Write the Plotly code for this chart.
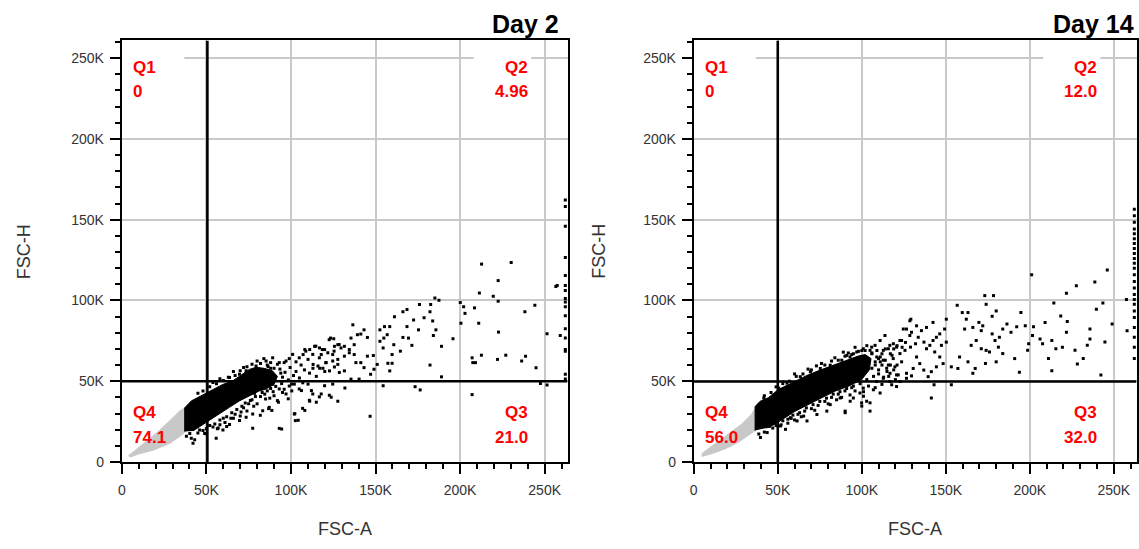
import plotly.graph_objects as go

W, H = 1139, 549

# ---------------- data (values in thousands) ----------------
tick_vals = [0, 50, 100, 150, 200, 250]
tick_text = ["0", "50K", "100K", "150K", "200K", "250K"]
minor_vals = [10, 20, 30, 40, 60, 70, 80, 90, 110, 120, 130, 140, 160, 170, 180, 190,
              210, 220, 230, 240, 260]

panel_titles = ["Day 2", "Day 14"]
quadrant_names = ["Q1", "Q2", "Q3", "Q4"]
day2_quadrants = ["0", "4.96", "21.0", "74.1"]
day14_quadrants = ["0", "12.0", "32.0", "56.0"]

day2_gate = (50.6, 50.0)     # (FSC-A gate, FSC-H gate)
day14_gate = (50.0, 49.8)

day2_gray = [(3.8, 3.7), (10.9, 9.8), (20.3, 17.7), (28.5, 25.6), (34.4, 31.7), (37.4, 33.5),
             (37.4, 18.5), (34.4, 15.9), (28.5, 11.6), (18.5, 7.3), (9.7, 4.9), (5.0, 3.0)]
day2_core = [(37.2, 18.8), (37.2, 33.5), (41.1, 37.8), (46.9, 41.0), (53.8, 45.0), (59.7, 48.0),
             (65.6, 50.2), (71.5, 54.2), (75.4, 57.3), (79.3, 58.6), (84.0, 58.0), (89.0, 56.5),
             (92.0, 53.0), (90.0, 48.0), (85.0, 45.0), (81.3, 44.0), (75.4, 41.0), (69.5, 37.8),
             (63.6, 33.8), (57.8, 29.8), (51.9, 25.6), (46.0, 21.5), (42.1, 19.2)]
day2_events = [
    (185.1, 101.5), (187.5, 100.1), (176.0, 97.5), (182.6, 97.5), (168.6, 94.4), (166.2, 93.0),
    (161.2, 89.9), (178.7, 89.3), (182.2, 93.0), (172.5, 87.9), (183.8, 87.3), (158.4, 83.8),
    (155.3, 83.8), (168.6, 83.8), (175.4, 81.8), (185.7, 81.8), (143.2, 81.8), (152.6, 81.8),
    (136.6, 84.9), (184.2, 78.3), (166.2, 77.1), (169.5, 76.7), (152.6, 74.7), (156.9, 78.8),
    (154.9, 76.7), (160.8, 72.6), (164.7, 68.6), (171.5, 72.2), (189.0, 71.6), (195.8, 76.3),
    (154.5, 70.6), (159.8, 66.5), (148.7, 65.9), (151.0, 60.4), (157.3, 61.1), (159.8, 61.1),
    (158.4, 56.4), (182.2, 60.0), (189.0, 52.7), (149.1, 57.4), (147.1, 54.3), (143.2, 58.4),
    (138.4, 61.5), (141.3, 61.5), (145.2, 65.5), (137.4, 66.5), (134.5, 69.6), (131.6, 71.6),
    (129.6, 70.6), (127.7, 72.6), (125.7, 71.6), (123.4, 76.7), (125.3, 76.3), (135.5, 76.7),
    (139.3, 78.8), (141.3, 79.2), (145.2, 77.1), (137.4, 72.6), (134.5, 67.6), (131.6, 65.5),
    (127.7, 63.5), (124.7, 62.5), (120.8, 61.5), (117.9, 66.5), (119.9, 69.6), (116.9, 70.6),
    (114.0, 71.6), (111.1, 69.6), (108.2, 69.6), (107.2, 66.5), (110.1, 63.5), (113.1, 60.4),
    (116.0, 59.4), (118.9, 58.0), (122.8, 56.4), (125.7, 58.8), (128.6, 55.4), (131.6, 56.4),
    (135.5, 51.3), (140.3, 51.3), (127.7, 60.4), (124.7, 66.5), (121.8, 67.6),
    (200.1, 98.7), (202.1, 96.1), (202.9, 92.0), (208.5, 95.4), (211.4, 104.6), (219.6, 102.6),
    (222.5, 99.5), (238.3, 93.0), (244.2, 97.1), (256.6, 108.7), (251.4, 79.4), (259.2, 78.3),
    (222.7, 80.4), (211.0, 85.9), (200.5, 85.9), (207.1, 64.5), (209.1, 61.5), (207.5, 61.5),
    (212.6, 66.1), (222.1, 63.5), (227.0, 66.1), (236.4, 62.5), (238.7, 65.5), (244.9, 58.4),
    (212.7, 122.5), (230.2, 123.5), (222.5, 112.3), (257.4, 109.3),
    (154.5, 47.2), (173.4, 46.6), (176.4, 44.6), (207.1, 41.7), (247.5, 48.6), (251.4, 47.6),
    (146.8, 28.3), (131.9, 45.8), (124.7, 48.2), (119.9, 47.2), (115.0, 37.0), (111.1, 37.6),
    (108.2, 31.9), (104.3, 25.8), (102.3, 29.9), (94.5, 20.4), (127.7, 37.6), (123.8, 40.1),
    (117.9, 42.1), (112.1, 44.2), (106.2, 44.2), (110.1, 48.2), (100.4, 48.2), (98.4, 39.1),
    (92.6, 37.0), (88.7, 31.9), (86.8, 33.0), (81.9, 28.9),
    (41.1, 14.7), (42.1, 11.6), (55.8, 14.7), (77.4, 20.8), (93.1, 20.8), (40.2, 17.7),
    (49.0, 17.7), (59.8, 19.8), (63.7, 23.2), (53.9, 21.6), (69.6, 25.6), (73.5, 27.7),
    (77.4, 29.7), (83.3, 31.7), (87.2, 33.8), (102.0, 29.7), (102.6, 25.6), (106.9, 33.2),
    (110.9, 38.2), (116.8, 40.3), (122.7, 41.3), (112.9, 42.1), (89.2, 48.2), (93.1, 45.2),
    (97.1, 42.1), (102.0, 48.2), (104.9, 45.2), (38.2, 15.9), (43.1, 13.7), (46.0, 19.8),
    (53.9, 49.2), (63.7, 52.3), (69.6, 54.3), (73.5, 56.4), (79.4, 59.4), (85.3, 62.5),
    (89.2, 64.5), (93.1, 61.5), (97.1, 62.5), (101.0, 66.6), (104.9, 64.5), (108.8, 68.6),
    (112.9, 66.6), (114.7, 71.7), (118.6, 69.6), (122.6, 75.7), (116.8, 64.5), (120.6, 61.5),
    (125.5, 68.6), (128.5, 72.7),
    (80.5, 52.0), (82.5, 54.5), (86.5, 59.0), (88.0, 58.0), (93.5, 57.5), (95.0, 52.5),
    (96.5, 55.5), (98.5, 50.8), (99.5, 58.5), (101.5, 53.5), (103.0, 56.0), (94.5, 48.5),
    (96.0, 45.0), (99.0, 47.0), (100.5, 44.0), (84.5, 42.0), (87.5, 39.5), (82.0, 40.5),
    (78.5, 42.5), (77.0, 38.5), (75.0, 36.0), (72.0, 33.5), (70.5, 31.0), (67.0, 29.5),
    (64.5, 27.0), (61.0, 24.5), (58.0, 23.0), (56.5, 20.5), (91.0, 46.8), (89.5, 43.5),
    (45.0, 18.0), (48.0, 19.5), (50.0, 20.5), (52.0, 22.5), (55.0, 23.5), (58.0, 26.0),
    (60.0, 27.0), (62.0, 28.0), (65.0, 30.5), (68.0, 32.5), (71.0, 34.5), (73.0, 36.5),
    (76.0, 38.0), (79.0, 40.5), (83.0, 43.0), (86.0, 44.0), (88.0, 45.5), (50.0, 17.5),
    (57.0, 21.0), (66.0, 27.0), (74.0, 31.5), (80.0, 36.0), (62.0, 22.0), (70.0, 28.5),
    (78.0, 34.5), (85.0, 39.0), (90.0, 41.0), (95.0, 43.0), (92.0, 38.0),
    (45.0, 42.5), (48.0, 44.0), (52.0, 46.5), (56.0, 48.5), (60.0, 50.5), (63.0, 52.5),
    (67.0, 53.5), (70.0, 56.5), (74.0, 59.0), (77.0, 60.5), (82.0, 61.0), (86.0, 60.0),
    (90.0, 58.0), (94.0, 55.0), (58.0, 51.5), (66.0, 56.0), (72.0, 58.5), (80.0, 62.5),
    (84.0, 64.0), (88.0, 61.5), (92.0, 60.5), (96.0, 61.5), (99.0, 64.0), (103.0, 62.0),
    (106.0, 60.0), (108.0, 57.0), (105.0, 52.0), (107.0, 49.0), (111.0, 55.0), (113.0, 58.0),
    (117.0, 58.0), (120.0, 56.0), (115.0, 53.0),
]
day2_edge_y = [162.2, 158.1, 145.9, 126.6, 115.4, 109.3, 106.2, 101.2, 99.1, 96.1, 90.6, 82.4,
               76.7, 69.6, 68.6, 54.3, 51.3]

day14_gray = [(4.7, 5.1), (12.7, 11.2), (20.6, 17.3), (28.5, 23.4), (34.4, 29.6), (36.5, 33.0),
              (36.5, 19.3), (32.5, 16.3), (26.5, 12.2), (18.6, 8.1), (10.6, 5.1), (4.7, 3.4)]
day14_core = [(36.5, 19.5), (36.5, 34.3), (39.4, 37.5), (44.4, 39.8), (50.3, 44.8), (56.3, 48.0),
              (62.2, 51.0), (68.2, 54.0), (76.1, 57.2), (84.0, 60.2), (92.0, 63.2), (97.9, 65.6),
              (102.0, 66.5), (105.5, 64.0), (104.5, 57.0), (99.9, 51.0), (92.0, 46.8), (84.0, 43.8),
              (76.1, 39.7), (68.2, 35.6), (60.3, 31.4), (54.3, 27.4), (48.4, 23.4), (43.4, 21.0)]
day14_events = [
    (246.1, 118.9), (201.1, 115.9), (227.7, 109.1), (238.7, 111.4), (221.8, 104.5), (257.5, 100.6),
    (243.5, 98.4), (239.6, 94.5), (214.3, 98.4), (218.4, 90.4), (222.3, 87.0), (209.1, 86.4),
    (194.7, 92.5), (249.0, 85.4), (257.9, 81.3), (235.8, 82.3), (235.8, 76.2), (244.7, 74.2),
    (234.2, 72.2), (221.8, 80.3), (219.4, 71.1), (215.5, 70.1), (213.1, 75.2), (207.6, 73.2),
    (206.1, 76.2), (201.6, 78.3), (199.3, 73.2), (198.7, 69.1), (211.1, 64.0), (226.9, 69.1),
    (231.8, 64.0), (228.3, 60.6), (213.1, 56.5), (242.3, 53.9), (191.0, 64.0), (193.8, 55.5),
    (197.3, 84.3), (202.2, 83.7), (188.8, 80.3), (192.2, 83.7), (186.4, 85.4), (183.9, 82.3),
    (183.9, 67.1), (181.3, 71.1), (179.3, 75.2), (181.9, 77.2), (177.6, 79.3), (177.6, 90.2),
    (180.0, 93.5), (174.0, 97.6), (173.2, 103.0), (178.4, 103.0), (163.2, 92.5), (159.8, 92.5),
    (156.8, 97.0), (162.2, 88.4), (161.2, 82.3), (166.1, 83.3), (169.7, 86.4), (172.0, 84.3),
    (171.1, 81.3), (168.1, 75.2), (165.1, 72.2), (171.1, 70.1), (174.0, 69.1), (176.0, 68.1),
    (180.0, 62.0), (173.6, 61.0), (167.5, 57.9), (166.1, 54.9), (163.2, 62.0), (158.2, 65.0),
    (157.2, 57.9), (153.3, 58.9), (150.3, 88.4), (149.3, 82.3), (146.4, 79.3), (144.4, 77.2),
    (150.3, 74.2), (147.4, 72.2), (142.4, 75.2), (140.5, 72.2), (138.5, 70.1), (143.4, 68.1),
    (146.4, 65.0), (148.4, 60.9), (144.4, 58.9), (141.4, 55.9), (139.5, 52.8), (142.4, 86.4),
    (138.5, 83.3), (135.5, 81.3), (132.6, 84.3), (129.2, 88.4), (126.6, 82.3), (129.6, 80.3),
    (133.6, 77.2), (137.0, 74.2), (132.0, 73.2), (129.0, 71.1), (125.7, 69.1), (122.7, 67.1),
    (120.7, 71.1), (123.7, 75.2), (118.8, 73.2), (115.8, 70.1), (113.8, 78.3), (132.6, 65.0),
    (134.5, 60.9), (130.6, 57.9), (126.6, 54.9), (136.9, 56.9),
    (141.4, 39.6), (153.3, 47.8), (143.0, 47.8), (120.7, 46.7), (117.8, 47.8), (110.9, 42.7),
    (106.9, 44.7), (104.9, 36.6), (101.0, 40.7), (100.0, 34.6), (90.1, 31.5), (93.1, 37.6),
    (104.9, 69.1), (107.9, 72.2), (110.9, 75.2), (108.9, 65.0), (112.8, 63.0), (115.8, 60.0),
    (119.7, 58.9), (123.7, 62.0), (116.8, 54.9), (121.7, 53.9), (112.8, 51.8), (126.6, 51.8),
    (129.6, 53.3),
    (38.7, 17.3), (39.7, 15.2), (43.7, 18.2), (54.6, 20.2), (51.6, 22.3), (61.5, 25.4),
    (65.4, 28.4), (67.4, 25.4), (73.3, 29.4), (79.2, 31.5), (81.2, 35.5), (87.1, 39.6),
    (90.1, 30.5), (95.0, 39.6), (98.9, 42.7), (99.9, 36.6), (104.9, 31.5), (102.9, 37.6),
    (57.5, 27.4), (43.7, 25.4), (47.6, 27.4),
    (41.7, 39.6), (50.6, 45.7), (55.5, 48.8), (63.4, 52.8), (69.4, 55.9), (75.3, 57.9),
    (81.2, 59.9), (88.1, 63.0), (91.1, 66.0), (97.0, 68.1), (100.9, 70.1), (105.9, 71.1),
    (112.8, 69.1), (116.7, 72.2), (122.7, 75.2), (124.7, 82.3), (128.6, 87.4), (128.6, 78.3),
    (118.7, 64.0), (114.8, 58.0), (120.7, 53.9), (116.7, 49.8), (108.8, 49.8), (122.7, 49.8),
    (100.9, 45.7),
    (96.0, 58.0), (98.0, 61.0), (100.0, 56.0), (102.0, 59.0), (106.0, 58.0), (108.0, 62.0),
    (110.0, 57.0), (112.0, 60.0), (106.0, 67.0), (109.0, 69.0), (111.0, 65.0), (114.0, 63.0),
    (117.0, 60.0), (115.0, 56.0), (119.0, 57.0), (121.0, 60.0), (118.0, 66.0), (100.0, 69.0),
    (103.0, 72.0), (95.0, 67.0), (93.0, 65.0), (113.0, 52.5), (116.0, 53.0), (120.0, 51.0),
    (70.0, 33.0), (74.0, 35.0), (78.0, 37.5), (82.0, 40.0), (86.0, 42.0), (90.0, 44.0),
    (94.0, 46.0), (58.0, 27.0), (62.0, 29.5), (66.0, 31.5), (52.0, 23.0), (47.0, 21.0),
    (42.0, 18.5),
    (42.0, 41.0), (46.0, 43.0), (49.0, 46.5), (53.0, 48.5), (57.0, 50.0), (61.0, 53.0),
    (65.0, 54.5), (70.0, 57.0), (73.0, 59.5), (78.0, 60.0), (82.0, 62.5), (86.0, 63.0),
    (90.0, 65.5), (94.0, 66.5), (98.0, 68.5), (102.0, 69.0), (106.0, 67.5), (60.0, 54.5),
    (68.0, 57.5), (76.0, 61.0), (84.0, 64.5), (92.0, 67.5), (89.0, 68.0), (96.0, 71.0),
    (110.0, 64.0), (112.0, 67.0), (114.0, 70.0), (117.0, 67.0), (119.0, 70.0), (121.0, 72.0),
    (124.0, 71.0), (126.0, 74.0), (108.0, 60.0), (111.0, 62.0),
    (45.0, 22.0), (49.0, 22.5), (53.0, 25.5), (56.0, 26.5), (59.0, 29.0), (63.0, 30.5),
    (67.0, 33.5), (71.0, 35.5), (75.0, 37.5), (79.0, 39.5), (83.0, 42.0), (87.0, 43.5),
    (91.0, 45.5), (95.0, 47.0), (99.0, 48.5), (103.0, 51.0), (107.0, 53.0), (110.0, 54.5),
    (64.0, 28.0), (72.0, 32.0), (80.0, 36.0), (88.0, 40.0), (96.0, 44.0), (104.0, 47.0),
    (56.0, 24.0), (60.0, 26.0), (85.0, 38.5), (93.0, 41.5), (101.0, 43.5), (108.0, 46.0),
    (112.0, 48.0),
]
day14_edge_y = [156.5, 152.4, 148.4, 144.3, 141.3, 138.2, 135.2, 132.1, 129.1, 126.0, 123.0,
                119.9, 115.9, 111.8, 107.7, 103.7, 100.6, 97.6, 93.5, 89.4, 83.3, 77.2, 71.1, 64.0]
edge_x = 262.2   # events piled up at the top of the FSC-A scale

x_range = [0, 263.5]
y_range = [0, 261]

# ---------------- layout geometry (pixels) ----------------
panels = [
    dict(x0=118.3, x1=566.0, title_right=559.5, fsch_x=20),
    dict(x0=692.8, x1=1137.5, title_right=1137.0, fsch_x=598),
]
PY_TOP, PY_BOT = 41.0, 468.8


def pxx(v):
    return v / W


def pxy(v):
    return 1 - v / H


fig = go.Figure()
datasets = [
    (day2_gray, day2_core, day2_events, day2_edge_y, day2_gate, day2_quadrants),
    (day14_gray, day14_core, day14_events, day14_edge_y, day14_gate, day14_quadrants),
]

axis_common = dict(
    tickmode="array", tickvals=tick_vals, ticktext=tick_text,
    ticks="outside", ticklen=10, tickwidth=2, tickcolor="black",
    showline=True, linewidth=2, linecolor="black", mirror=True,
    showgrid=True, gridcolor="#c9c9c9", gridwidth=1.6, zeroline=False,
    tickfont=dict(family="Liberation Sans, Arial", size=14, color="#333333"),
    minor=dict(tickmode="array", tickvals=minor_vals, ticks="outside", ticklen=5,
               tickwidth=1.5, tickcolor="black", showgrid=False),
    fixedrange=True,
)

shapes = []
annotations = []
for i, (gray, core, events, edge_y, gate, qvals) in enumerate(datasets):
    xa = "x" if i == 0 else "x2"
    ya = "y" if i == 0 else "y2"
    p = panels[i]

    fig.add_trace(go.Scatter(
        x=[a for a, b in gray], y=[b for a, b in gray], mode="lines", fill="toself",
        fillcolor="#c8c8c8", line=dict(color="#c8c8c8", width=1), xaxis=xa, yaxis=ya,
        hoverinfo="skip", showlegend=False))
    fig.add_trace(go.Scatter(
        x=[a for a, b in core], y=[b for a, b in core], mode="lines", fill="toself",
        fillcolor="black", line=dict(color="black", width=1), xaxis=xa, yaxis=ya,
        hoverinfo="skip", showlegend=False))
    fig.add_trace(go.Scatter(
        x=[a for a, b in events] + [edge_x] * len(edge_y),
        y=[b for a, b in events] + edge_y,
        mode="markers", marker=dict(symbol="square", size=3, color="black", line=dict(width=0)),
        xaxis=xa, yaxis=ya, hoverinfo="skip", showlegend=False))

    # white label backgrounds (drawn over the grid, under the data)
    for bx in ([0, 37], [208, 242]):
        shapes.append(dict(type="rect", xref=xa, yref=ya, x0=bx[0], x1=bx[1], y0=228, y1=258,
                           fillcolor="white", line=dict(width=0), layer="between"))
    # quadrant gate
    shapes.append(dict(type="line", xref=xa, yref=ya, x0=gate[0], x1=gate[0], y0=0, y1=y_range[1],
                       line=dict(color="black", width=2.6), layer="above"))
    shapes.append(dict(type="line", xref=xa, yref=ya, x0=0, x1=x_range[1], y0=gate[1], y1=gate[1],
                       line=dict(color="black", width=2.6), layer="above"))

    qfont = dict(family="Liberation Sans, Arial", size=17, color="#ff0000", weight="bold")
    lx = pxx(p["x0"] + 9)
    rx = pxx(p["x1"] - 38)
    # Q1 (top-left), Q2 (top-right), Q3 (bottom-right), Q4 (bottom-left)
    spots = [(lx, "left", 68, 92.5), (rx, "right", 68, 92.5),
             (rx, "right", 419, 444), (lx, "left", 419, 444)]
    for k, (xx, anc, yq, yv) in enumerate(spots):
        annotations.append(dict(xref="paper", yref="paper", x=xx, y=pxy(yq), xanchor=anc,
                                yanchor="middle", text=quadrant_names[k], showarrow=False, font=qfont))
        annotations.append(dict(xref="paper", yref="paper", x=xx, y=pxy(yv), xanchor=anc,
                                yanchor="middle", text=qvals[k], showarrow=False, font=qfont))

    annotations.append(dict(xref="paper", yref="paper", x=pxx(p["title_right"]), y=pxy(24),
                            xanchor="right", yanchor="middle", text=panel_titles[i], showarrow=False,
                            font=dict(family="Liberation Sans, Arial", size=25, color="black",
                                      weight="bold")))
    annotations.append(dict(xref="paper", yref="paper", x=pxx((p["x0"] + p["x1"]) / 2), y=pxy(537),
                            xanchor="center", yanchor="middle", text="FSC-A", showarrow=False,
                            font=dict(family="Liberation Sans, Arial", size=18, color="#333333")))
    annotations.append(dict(xref="paper", yref="paper", x=pxx(p["fsch_x"]), y=pxy(255),
                            xanchor="center", yanchor="middle", text="FSC-H", textangle=-90,
                            showarrow=False,
                            font=dict(family="Liberation Sans, Arial", size=18, color="#333333")))

xa1 = dict(axis_common, range=x_range, domain=[pxx(panels[0]["x0"]), pxx(panels[0]["x1"])],
           anchor="y", ticklabelstandoff=4)
ya1 = dict(axis_common, range=y_range, domain=[pxy(PY_BOT), pxy(PY_TOP)], anchor="x",
           ticklabelstandoff=3)
xa2 = dict(axis_common, range=x_range, domain=[pxx(panels[1]["x0"]), pxx(panels[1]["x1"])],
           anchor="y2", ticklabelstandoff=4)
ya2 = dict(axis_common, range=y_range, domain=[pxy(PY_BOT), pxy(PY_TOP)], anchor="x2",
           ticklabelstandoff=3)

fig.update_layout(
    width=W, height=H, margin=dict(l=0, r=0, t=0, b=0),
    paper_bgcolor="white", plot_bgcolor="white",
    xaxis=xa1, yaxis=ya1, xaxis2=xa2, yaxis2=ya2,
    shapes=shapes, annotations=annotations, showlegend=False,
)

fig.write_html("out.html", config={"displayModeBar": False})
